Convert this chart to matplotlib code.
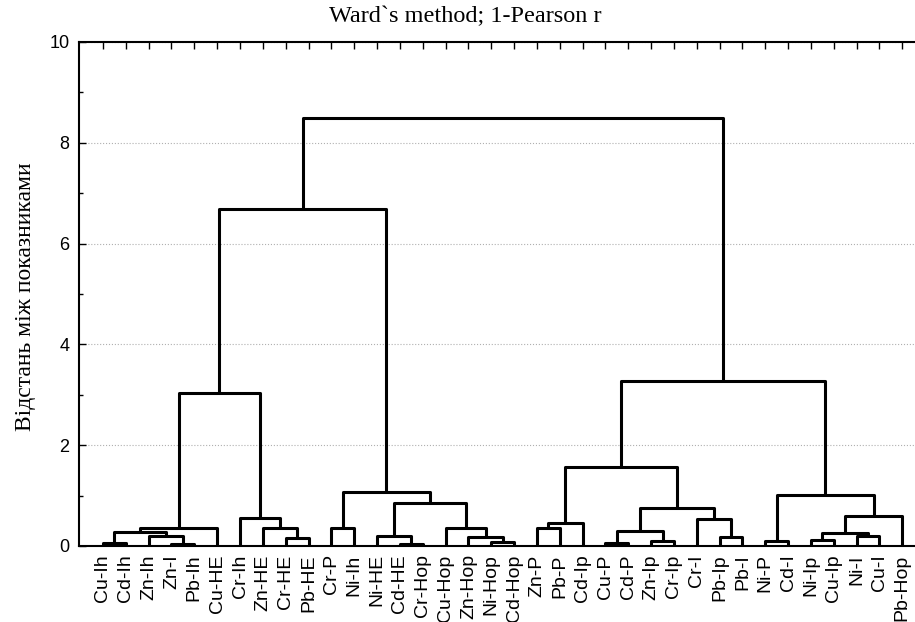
#!/usr/bin/env python3

import numpy as np
import matplotlib
matplotlib.use("Agg")
import matplotlib.pyplot as plt
from matplotlib.ticker import MultipleLocator

# Leaf labels in dendrogram order (left to right)
leaves = ["Cu-Ih", "Cd-Ih", "Zn-Ih", "Zn-I", "Pb-Ih", "Cu-HE", "Cr-Ih", "Zn-HE",
          "Cr-HE", "Pb-HE", "Cr-P", "Ni-Ih", "Ni-HE", "Cd-HE", "Cr-Hop", "Cu-Hop",
          "Zn-Hop", "Ni-Hop", "Cd-Hop", "Zn-P", "Pb-P", "Cd-Ip", "Cu-P", "Cd-P",
          "Zn-Ip", "Cr-Ip", "Cr-I", "Pb-Ip", "Pb-I", "Ni-P", "Cd-I", "Ni-Ip",
          "Cu-Ip", "Ni-I", "Cu-I", "Pb-Hop"]

# Linkage: merge k creates cluster id len(leaves)+k from merge_left[k], merge_right[k]
merge_left = [0, 3, 2, 36, 39, 8, 7, 6, 40, 10, 13, 12, 17, 16, 15, 47, 45, 44,
              19, 54, 22, 24, 56, 27, 26, 58, 55, 29, 31, 33, 64, 66, 63, 62, 53]
merge_right = [1, 4, 37, 38, 5, 9, 41, 42, 43, 11, 14, 46, 18, 48, 49, 50, 51, 52,
               20, 21, 23, 25, 57, 28, 59, 60, 61, 30, 32, 34, 65, 35, 67, 68, 69]
merge_height = [0.05, 0.04, 0.20, 0.28, 0.36, 0.16, 0.35, 0.55, 3.03, 0.36, 0.03,
                0.20, 0.07, 0.17, 0.35, 0.86, 1.07, 6.69, 0.35, 0.45, 0.05, 0.10,
                0.30, 0.17, 0.53, 0.75, 1.57, 0.09, 0.12, 0.20, 0.25, 0.60, 1.01,
                3.28, 8.49]

title = "Ward`s method; 1-Pearson r"
ylabel = "Відстань між показниками"


def draw_dendrogram(ax):
    n = len(leaves)
    pos = {i: float(i) for i in range(n)}
    hgt = {i: 0.0 for i in range(n)}
    for k, (a, b, h) in enumerate(zip(merge_left, merge_right, merge_height)):
        xa, xb = pos[a], pos[b]
        ax.plot([xa, xa, xb, xb], [hgt[a], h, h, hgt[b]], color="black",
                lw=2.2, solid_capstyle="butt", clip_on=False, zorder=3)
        pos[n + k] = (xa + xb) / 2
        hgt[n + k] = h


def main():
    fig = plt.figure(figsize=(9.15, 6.22), dpi=100)
    ax = fig.add_axes([79 / 915, 76 / 622, 845 / 915, 504 / 622])

    draw_dendrogram(ax)

    ax.set_xlim(-1.05, 35.95)
    ax.set_ylim(0, 10)

    ax.set_xticks(np.arange(len(leaves)))
    ax.set_xticklabels(leaves, rotation=90, fontsize=14, family="Liberation Sans")
    ax.tick_params(axis="x", which="both", bottom=False, top=True, direction="in",
                   length=5, width=1, pad=6, labelbottom=True, labeltop=False)

    ax.yaxis.set_major_locator(MultipleLocator(2))
    ax.yaxis.set_minor_locator(MultipleLocator(1))
    ax.tick_params(axis="y", which="major", direction="in", length=5, width=1,
                   labelsize=13, pad=7)
    ax.tick_params(axis="y", which="minor", direction="in", length=3, width=1)
    for lab in ax.get_yticklabels():
        lab.set_family("Liberation Sans")

    ax.grid(axis="y", which="major", linestyle=":", color="#b0b0b0", lw=0.8)
    ax.set_axisbelow(True)

    for side in ["left", "top", "bottom", "right"]:
        ax.spines[side].set_linewidth(1.5)

    fig.text(465 / 915, 1 - 17 / 622, title, ha="center", va="center",
             fontsize=17.5, family="Liberation Serif")
    fig.text(26 / 915, 1 - 297 / 622, ylabel, ha="center", va="center",
             rotation=90, fontsize=17, family="Liberation Serif")

    fig.savefig("out.png", dpi=100)


if __name__ == "__main__":
    main()
